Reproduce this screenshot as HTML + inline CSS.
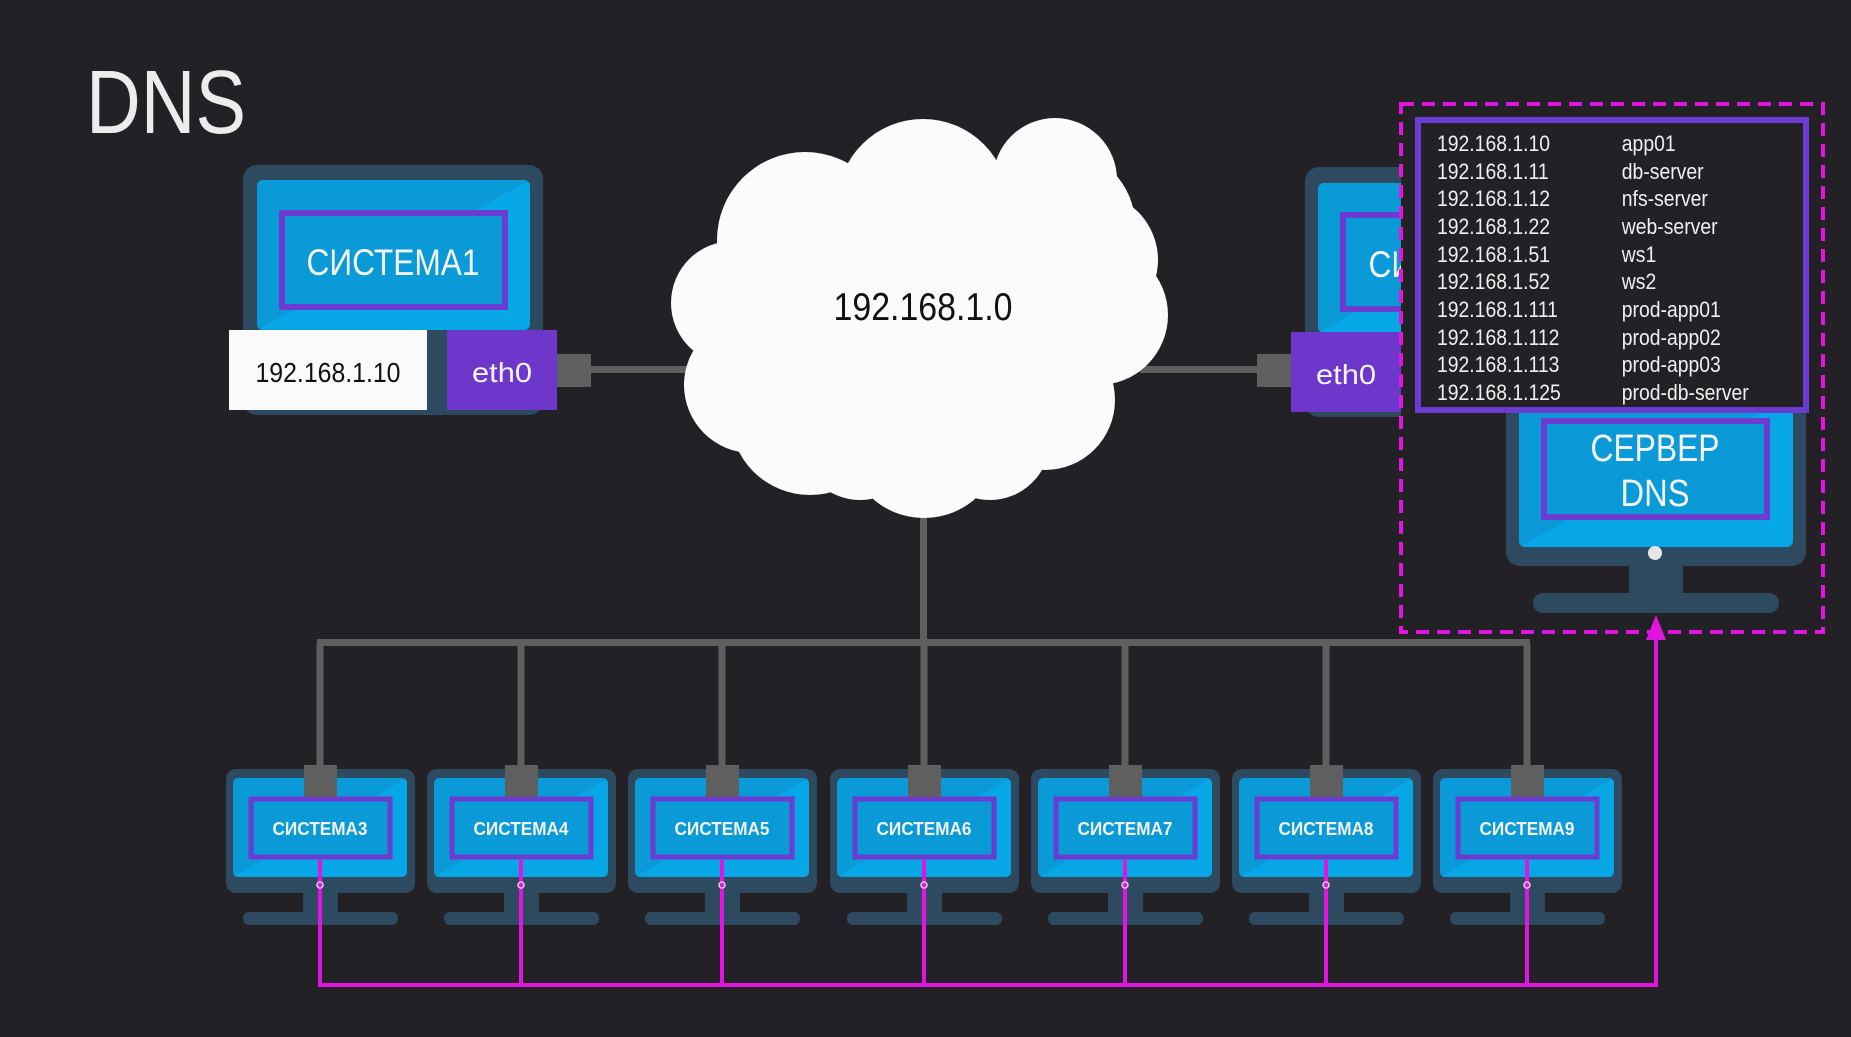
<!DOCTYPE html>
<html><head><meta charset="utf-8"><style>
html,body{margin:0;padding:0;background:#232126;}
svg{display:block;}
text{font-family:"Liberation Sans",sans-serif;}
</style></head><body>
<svg width="1851" height="1037" viewBox="0 0 1851 1037" xmlns="http://www.w3.org/2000/svg">
<defs>
<linearGradient id="scr" x1="0" y1="0" x2="1" y2="1">
<stop offset="0" stop-color="#0a9ad8"/><stop offset="0.5" stop-color="#0a9ad8"/><stop offset="0.5" stop-color="#07a6e6"/><stop offset="1" stop-color="#07a6e6"/>
</linearGradient>
<clipPath id="clipR"><rect x="1290" y="150" width="111" height="280"/></clipPath>
</defs>
<rect width="1851" height="1037" fill="#232126"/>

<text x="86" y="133" font-size="90" fill="#ececec" textLength="160" lengthAdjust="spacingAndGlyphs">DNS</text>

<rect x="585" y="366" width="120" height="7" fill="#5f5f5f"/>
<rect x="1140" y="366" width="120" height="7" fill="#5f5f5f"/>
<rect x="920" y="500" width="7" height="143" fill="#5f5f5f"/>
<rect x="317" y="639" width="1213" height="7" fill="#5f5f5f"/>

<rect x="243" y="165" width="300" height="250" rx="14" fill="#2d4a61"/>
<rect x="257" y="180" width="273" height="150" rx="6" fill="url(#scr)"/>
<rect x="282" y="213" width="223" height="94" fill="#0a9ad8" stroke="#6b3bd2" stroke-width="6"/>
<text x="393" y="275" font-size="37" fill="#f4f4f4" text-anchor="middle" textLength="173" lengthAdjust="spacingAndGlyphs">СИСТЕМА1</text>
<rect x="229" y="330" width="198" height="80" fill="#fafafa"/>
<text x="328" y="382" font-size="28" fill="#111" text-anchor="middle" textLength="145" lengthAdjust="spacingAndGlyphs">192.168.1.10</text>
<rect x="447" y="330" width="110" height="80" fill="#6e37cb"/>
<text x="502" y="382" font-size="28" fill="#f4f4f4" text-anchor="middle" textLength="60" lengthAdjust="spacingAndGlyphs">eth0</text>
<rect x="557" y="354" width="34" height="33" fill="#5f5f5f"/>

<g clip-path="url(#clipR)">
<rect x="1305" y="167" width="300" height="250" rx="14" fill="#2d4a61"/>
<rect x="1318" y="183" width="273" height="150" rx="6" fill="url(#scr)"/>
<rect x="1343" y="215" width="223" height="94" fill="#0a9ad8" stroke="#6b3bd2" stroke-width="6"/>
<text x="1455" y="277" font-size="37" fill="#f4f4f4" text-anchor="middle" textLength="173" lengthAdjust="spacingAndGlyphs">СИСТЕМА2</text>
</g>
<rect x="1257" y="354" width="34" height="33" fill="#5f5f5f"/>
<rect x="1291" y="332" width="110" height="80" fill="#6e37cb"/>
<text x="1346" y="384" font-size="28" fill="#f4f4f4" text-anchor="middle" textLength="60" lengthAdjust="spacingAndGlyphs">eth0</text>

<g fill="#fbfbfb">
<circle cx="733" cy="303" r="62"/>
<circle cx="805" cy="240" r="88"/>
<circle cx="923" cy="205" r="86"/>
<circle cx="1055" cy="180" r="62"/>
<circle cx="1060" cy="225" r="75"/>
<circle cx="1090" cy="260" r="68"/>
<circle cx="1098" cy="315" r="70"/>
<circle cx="1045" cy="400" r="70"/>
<circle cx="924" cy="440" r="78"/>
<circle cx="810" cy="415" r="80"/>
<circle cx="752" cy="385" r="68"/>
<circle cx="924" cy="320" r="145"/>
<circle cx="860" cy="440" r="60"/>
<circle cx="990" cy="440" r="60"/>
</g>
<text x="923" y="320" font-size="39" fill="#111" text-anchor="middle" textLength="179" lengthAdjust="spacingAndGlyphs">192.168.1.0</text>

<rect x="1506" y="380" width="300" height="186" rx="14" fill="#2d4a61"/>
<rect x="1519" y="395" width="274" height="152" rx="6" fill="url(#scr)"/>
<rect x="1544" y="421" width="223" height="96" fill="#0a9ad8" stroke="#6b3bd2" stroke-width="6"/>
<text x="1655" y="461" font-size="38" fill="#f4f4f4" text-anchor="middle" textLength="129" lengthAdjust="spacingAndGlyphs">СЕРВЕР</text>
<text x="1655" y="506" font-size="38" fill="#f4f4f4" text-anchor="middle" textLength="69" lengthAdjust="spacingAndGlyphs">DNS</text>
<circle cx="1655" cy="553" r="7" fill="#e6e6e6"/>
<rect x="1629" y="566" width="54" height="28" fill="#2d4a61"/>
<rect x="1533" y="593" width="246" height="20" rx="10" fill="#2d4a61"/>

<rect x="1418" y="120" width="388" height="290" fill="#232126" stroke="#6b3bd2" stroke-width="6"/>
<g font-size="22" fill="#efefef">
<g transform="translate(1437,0) scale(0.88,1)">
<text x="0" y="151">192.168.1.10</text>
<text x="0" y="179">192.168.1.11</text>
<text x="0" y="206">192.168.1.12</text>
<text x="0" y="234">192.168.1.22</text>
<text x="0" y="262">192.168.1.51</text>
<text x="0" y="289">192.168.1.52</text>
<text x="0" y="317">192.168.1.111</text>
<text x="0" y="345">192.168.1.112</text>
<text x="0" y="372">192.168.1.113</text>
<text x="0" y="400">192.168.1.125</text>
<text x="210" y="151">app01</text>
<text x="210" y="179">db-server</text>
<text x="210" y="206">nfs-server</text>
<text x="210" y="234">web-server</text>
<text x="210" y="262">ws1</text>
<text x="210" y="289">ws2</text>
<text x="210" y="317">prod-app01</text>
<text x="210" y="345">prod-app02</text>
<text x="210" y="372">prod-app03</text>
<text x="210" y="400">prod-db-server</text>
</g>
</g>

<rect x="1401" y="104" width="422" height="528" fill="none" stroke="#e015e0" stroke-width="4" stroke-dasharray="13 8"/>

<g font-size="18" font-weight="bold" fill="#f2f2f2" text-anchor="middle">
<g transform="translate(320,0)"><rect x="-94" y="769" width="189" height="124" rx="10" fill="#2d4a61"/><rect x="-87" y="778" width="174" height="99" rx="5" fill="url(#scr)"/><rect x="-69" y="799" width="139" height="58" fill="#0a9ad8" stroke="#6b3bd2" stroke-width="5"/><text x="0" y="835" textLength="95" lengthAdjust="spacingAndGlyphs">СИСТЕМА3</text><rect x="-3.5" y="643" width="7" height="125" fill="#5f5f5f"/><rect x="-16" y="765" width="33" height="32" fill="#5f5f5f"/><rect x="-17" y="893" width="35" height="20" fill="#2d4a61"/><rect x="-77" y="912" width="155" height="13" rx="6" fill="#2d4a61"/><rect x="-2" y="860" width="4" height="127" fill="#e015e0"/><circle cx="0" cy="885" r="3" fill="none" stroke="#f3c6f3" stroke-width="1.5"/></g>
<g transform="translate(521,0)"><rect x="-94" y="769" width="189" height="124" rx="10" fill="#2d4a61"/><rect x="-87" y="778" width="174" height="99" rx="5" fill="url(#scr)"/><rect x="-69" y="799" width="139" height="58" fill="#0a9ad8" stroke="#6b3bd2" stroke-width="5"/><text x="0" y="835" textLength="95" lengthAdjust="spacingAndGlyphs">СИСТЕМА4</text><rect x="-3.5" y="643" width="7" height="125" fill="#5f5f5f"/><rect x="-16" y="765" width="33" height="32" fill="#5f5f5f"/><rect x="-17" y="893" width="35" height="20" fill="#2d4a61"/><rect x="-77" y="912" width="155" height="13" rx="6" fill="#2d4a61"/><rect x="-2" y="860" width="4" height="127" fill="#e015e0"/><circle cx="0" cy="885" r="3" fill="none" stroke="#f3c6f3" stroke-width="1.5"/></g>
<g transform="translate(722,0)"><rect x="-94" y="769" width="189" height="124" rx="10" fill="#2d4a61"/><rect x="-87" y="778" width="174" height="99" rx="5" fill="url(#scr)"/><rect x="-69" y="799" width="139" height="58" fill="#0a9ad8" stroke="#6b3bd2" stroke-width="5"/><text x="0" y="835" textLength="95" lengthAdjust="spacingAndGlyphs">СИСТЕМА5</text><rect x="-3.5" y="643" width="7" height="125" fill="#5f5f5f"/><rect x="-16" y="765" width="33" height="32" fill="#5f5f5f"/><rect x="-17" y="893" width="35" height="20" fill="#2d4a61"/><rect x="-77" y="912" width="155" height="13" rx="6" fill="#2d4a61"/><rect x="-2" y="860" width="4" height="127" fill="#e015e0"/><circle cx="0" cy="885" r="3" fill="none" stroke="#f3c6f3" stroke-width="1.5"/></g>
<g transform="translate(924,0)"><rect x="-94" y="769" width="189" height="124" rx="10" fill="#2d4a61"/><rect x="-87" y="778" width="174" height="99" rx="5" fill="url(#scr)"/><rect x="-69" y="799" width="139" height="58" fill="#0a9ad8" stroke="#6b3bd2" stroke-width="5"/><text x="0" y="835" textLength="95" lengthAdjust="spacingAndGlyphs">СИСТЕМА6</text><rect x="-3.5" y="643" width="7" height="125" fill="#5f5f5f"/><rect x="-16" y="765" width="33" height="32" fill="#5f5f5f"/><rect x="-17" y="893" width="35" height="20" fill="#2d4a61"/><rect x="-77" y="912" width="155" height="13" rx="6" fill="#2d4a61"/><rect x="-2" y="860" width="4" height="127" fill="#e015e0"/><circle cx="0" cy="885" r="3" fill="none" stroke="#f3c6f3" stroke-width="1.5"/></g>
<g transform="translate(1125,0)"><rect x="-94" y="769" width="189" height="124" rx="10" fill="#2d4a61"/><rect x="-87" y="778" width="174" height="99" rx="5" fill="url(#scr)"/><rect x="-69" y="799" width="139" height="58" fill="#0a9ad8" stroke="#6b3bd2" stroke-width="5"/><text x="0" y="835" textLength="95" lengthAdjust="spacingAndGlyphs">СИСТЕМА7</text><rect x="-3.5" y="643" width="7" height="125" fill="#5f5f5f"/><rect x="-16" y="765" width="33" height="32" fill="#5f5f5f"/><rect x="-17" y="893" width="35" height="20" fill="#2d4a61"/><rect x="-77" y="912" width="155" height="13" rx="6" fill="#2d4a61"/><rect x="-2" y="860" width="4" height="127" fill="#e015e0"/><circle cx="0" cy="885" r="3" fill="none" stroke="#f3c6f3" stroke-width="1.5"/></g>
<g transform="translate(1326,0)"><rect x="-94" y="769" width="189" height="124" rx="10" fill="#2d4a61"/><rect x="-87" y="778" width="174" height="99" rx="5" fill="url(#scr)"/><rect x="-69" y="799" width="139" height="58" fill="#0a9ad8" stroke="#6b3bd2" stroke-width="5"/><text x="0" y="835" textLength="95" lengthAdjust="spacingAndGlyphs">СИСТЕМА8</text><rect x="-3.5" y="643" width="7" height="125" fill="#5f5f5f"/><rect x="-16" y="765" width="33" height="32" fill="#5f5f5f"/><rect x="-17" y="893" width="35" height="20" fill="#2d4a61"/><rect x="-77" y="912" width="155" height="13" rx="6" fill="#2d4a61"/><rect x="-2" y="860" width="4" height="127" fill="#e015e0"/><circle cx="0" cy="885" r="3" fill="none" stroke="#f3c6f3" stroke-width="1.5"/></g>
<g transform="translate(1527,0)"><rect x="-94" y="769" width="189" height="124" rx="10" fill="#2d4a61"/><rect x="-87" y="778" width="174" height="99" rx="5" fill="url(#scr)"/><rect x="-69" y="799" width="139" height="58" fill="#0a9ad8" stroke="#6b3bd2" stroke-width="5"/><text x="0" y="835" textLength="95" lengthAdjust="spacingAndGlyphs">СИСТЕМА9</text><rect x="-3.5" y="643" width="7" height="125" fill="#5f5f5f"/><rect x="-16" y="765" width="33" height="32" fill="#5f5f5f"/><rect x="-17" y="893" width="35" height="20" fill="#2d4a61"/><rect x="-77" y="912" width="155" height="13" rx="6" fill="#2d4a61"/><rect x="-2" y="860" width="4" height="127" fill="#e015e0"/><circle cx="0" cy="885" r="3" fill="none" stroke="#f3c6f3" stroke-width="1.5"/></g>
</g>

<rect x="318" y="983" width="1340" height="4" fill="#e015e0"/>
<rect x="1654" y="635" width="4" height="352" fill="#e015e0"/>
<polygon points="1656,615 1646,640 1666,640" fill="#e015e0"/>
</svg>
</body></html>
